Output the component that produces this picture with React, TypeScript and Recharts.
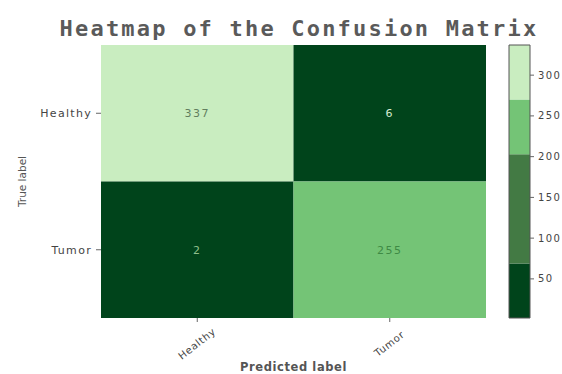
import React from "react";
import { ComposedChart, XAxis, YAxis, ReferenceArea, Label, Scatter } from "recharts";

// Confusion matrix: rows = true label, columns = predicted label
const classes = ["Healthy", "Tumor"];
const trueHealthy = [337, 6];
const trueTumor = [2, 255];
const matrixRows = [trueHealthy, trueTumor];

// Discrete colour bands of the colour bar (value ranges and greens)
const bandFrom = [2, 69, 203, 270];
const bandTo = [69, 203, 270, 337];
const bandColors = ["#00441b", "#437a44", "#74c476", "#c9edc0"];
const colorbarTicks = [50, 100, 150, 200, 250, 300];

const vmin = 2;
const vmax = 337;

function colorFor(v: number): string {
  for (let i = 0; i < bandFrom.length; i++) {
    if (v >= bandFrom[i] && v <= bandTo[i]) return bandColors[i];
  }
  return bandColors[0];
}

function textColorFor(v: number): string {
  if (v > 300) return "#627e5e";
  if (v > 200) return "#3f8a45";
  return v > 4 ? "#d4ead0" : "#8fbf8c";
}

const cells = matrixRows.flatMap((row, r) =>
  row.map((value, c) => ({ row: r, col: c, value }))
);

const bands = bandFrom.map((from, i) => ({ x: 0.5, y: (from + bandTo[i]) / 2 }));

const FONT = "DejaVu Sans, sans-serif";

const RotatedTick = (props: any) => {
  const { x, y, payload } = props;
  return (
    <g transform={`translate(${x},${y + 20})`}>
      <text
        transform="rotate(-38)"
        textAnchor="middle"
        dominantBaseline="middle"
        fontSize={10}
        letterSpacing={0.8}
        fontFamily={FONT}
        fill="#444"
      >
        {classes[payload.value]}
      </text>
    </g>
  );
};

const NoShape = () => <g />;

export default function App() {
  return (
    <div
      style={{
        position: "absolute",
        left: 0,
        top: 0,
        width: 562,
        height: 374,
        background: "#fff",
        overflow: "hidden",
      }}
    >
      <div
        style={{
          position: "absolute",
          left: 0,
          top: 16,
          width: 562,
          textAlign: "center",
          fontFamily: "DejaVu Sans Mono, monospace",
          fontWeight: "bold",
          fontSize: 22,
          letterSpacing: 2.2,
          color: "#5a5a5a",
          paddingLeft: 36,
          boxSizing: "border-box",
        }}
      >
        Heatmap of the Confusion Matrix
      </div>

      <div style={{ position: "absolute", left: 0, top: 0 }}>
        <ComposedChart
          width={562}
          height={374}
          data={cells}
          margin={{ top: 45, right: 76, bottom: 0, left: 41 }}
        >
          <XAxis
            type="number"
            dataKey="col"
            domain={[-0.5, 1.5]}
            ticks={[0, 1]}
            height={56}
            axisLine={false}
            tickLine={{ stroke: "#666" }}
            tickSize={4}
            tick={<RotatedTick />}
            interval={0}
            allowDataOverflow
          >
            <Label
              value="Predicted label"
              position="insideBottom"
              offset={3}
              fontSize={11.5}
              letterSpacing={0.6}
              fontWeight="bold"
              fontFamily={FONT}
              fill="#555"
            />
          </XAxis>
          <YAxis
            type="number"
            dataKey="row"
            domain={[-0.5, 1.5]}
            ticks={[0, 1]}
            reversed
            width={60}
            axisLine={false}
            tickLine={{ stroke: "#666" }}
            tickSize={5}
            interval={0}
            allowDataOverflow
            tickFormatter={(v: number) => classes[v]}
            tick={{ fontSize: 11, letterSpacing: 1.3, fontFamily: FONT, fill: "#444", dx: -2 }}
          >
            <Label
              value="True label"
              angle={-90}
              position="insideLeft"
              offset={-19}
              textAnchor="middle"
              fontSize={10.5}
              fontFamily={FONT}
              fill="#555"
            />
          </YAxis>
          {cells.map((cell) => (
            <ReferenceArea
              key={`${cell.row}-${cell.col}`}
              x1={cell.col - 0.5}
              x2={cell.col + 0.5}
              y1={cell.row - 0.5}
              y2={cell.row + 0.5}
              fill={colorFor(cell.value)}
              fillOpacity={1}
              stroke="none"
              ifOverflow="visible"
              label={{
                value: String(cell.value),
                position: "center",
                fontSize: 11,
                letterSpacing: 1.5,
                fontFamily: FONT,
                fill: textColorFor(cell.value),
              }}
            />
          ))}
          <Scatter dataKey="row" shape={<NoShape />} isAnimationActive={false} />
        </ComposedChart>
      </div>

      <div style={{ position: "absolute", left: 500, top: 0 }}>
        <ComposedChart
          width={62}
          height={374}
          data={bands}
          margin={{ top: 45, right: 0, bottom: 56, left: 9 }}
        >
          <XAxis type="number" dataKey="x" domain={[0, 1]} hide allowDataOverflow />
          <YAxis
            type="number"
            dataKey="y"
            orientation="right"
            domain={[vmin, vmax]}
            ticks={colorbarTicks}
            width={32}
            axisLine={false}
            tickLine={{ stroke: "#666" }}
            tickSize={4}
            allowDataOverflow
            tick={{ fontSize: 10, letterSpacing: 1.4, fontFamily: FONT, fill: "#444", dx: 2 }}
          />
          {bandFrom.map((from, i) => (
            <ReferenceArea
              key={i}
              x1={0}
              x2={1}
              y1={from}
              y2={bandTo[i]}
              fill={bandColors[i]}
              fillOpacity={1}
              stroke="none"
              ifOverflow="visible"
            />
          ))}
          <ReferenceArea
            x1={0}
            x2={1}
            y1={vmin}
            y2={vmax}
            fill="none"
            stroke="#555"
            strokeWidth={1}
            ifOverflow="visible"
          />
          <Scatter dataKey="y" shape={<NoShape />} isAnimationActive={false} />
        </ComposedChart>
      </div>
    </div>
  );
}
